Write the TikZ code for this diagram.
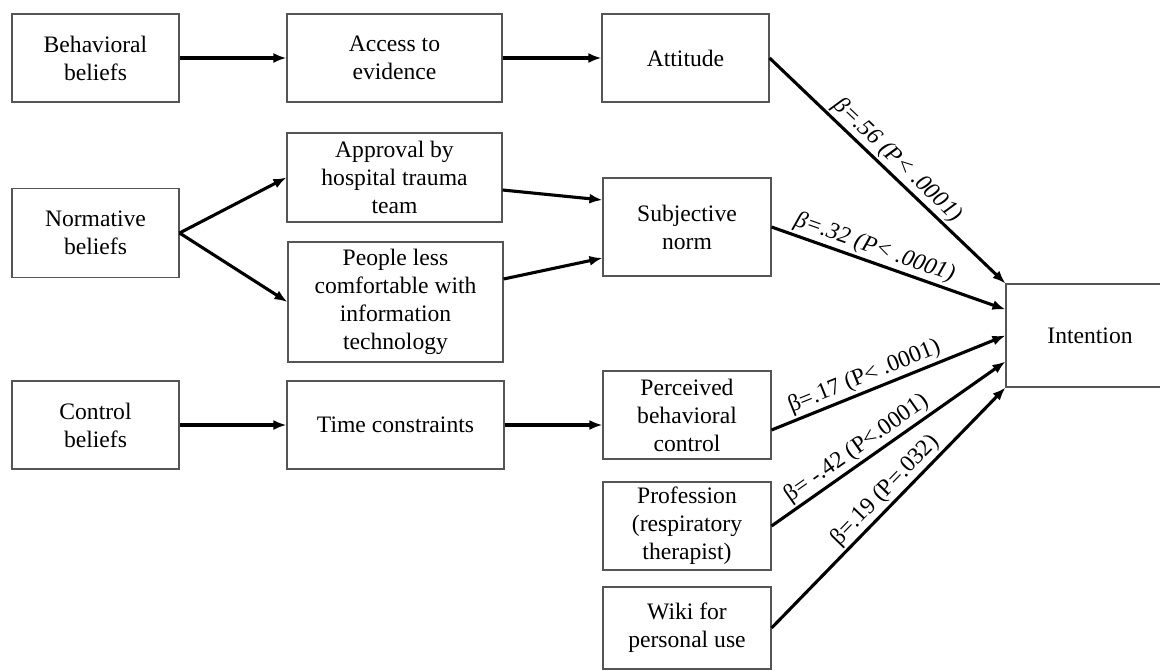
\documentclass[tikz,border=0pt]{standalone}
\usepackage{fontspec}
\setmainfont{Liberation Serif}
\usetikzlibrary{arrows.meta,calc}
\definecolor{boxline}{RGB}{85,85,85}

\begin{document}
\begin{tikzpicture}[x=1pt, y=-1pt,
    font=\fontsize{23.6}{28}\selectfont,
    box/.style={draw=boxline, line width=1.1pt, align=center, inner sep=0pt},
    link/.style={-{Latex[length=13pt,width=10pt]}, line width=3.1pt},
    coef/.style={sloped, above, inner sep=2pt}]

  \useasboundingbox (0,0) rectangle (1160,670);
  \clip (0,0) rectangle (1160,670);

  % -- beliefs --
  \node[box, minimum width=167pt, minimum height=88pt] (beh) at (95.5,58)  {Behavioral\\beliefs};
  \node[box, minimum width=167pt, minimum height=89pt] (nor) at (95.5,233) {Normative\\beliefs};
  \node[box, minimum width=167pt, minimum height=88pt] (ctl) at (95.5,425) {Control\\beliefs};

  % -- middle column --
  \node[box, minimum width=215pt, minimum height=88pt]  (acc) at (394.5,58)    {Access to\\evidence};
  \node[box, minimum width=215pt, minimum height=89pt]  (app) at (394.5,177.5) {Approval by\\hospital trauma\\team};
  \node[box, minimum width=215pt, minimum height=120pt] (ppl) at (395.5,302)   {People less\\comfortable with\\information\\technology};
  \node[box, minimum width=217pt, minimum height=88pt]  (tim) at (395.5,425)   {Time constraints};

  % -- predictors --
  \node[box, minimum width=167pt, minimum height=88pt] (att) at (685.5,58) {Attitude};
  \node[box, minimum width=168pt, minimum height=98pt] (sub) at (687,227)  {Subjective\\norm};
  \node[box, minimum width=168pt, minimum height=88pt] (pbc) at (687,415)  {Perceived\\behavioral\\control};
  \node[box, minimum width=168pt, minimum height=88pt] (pro) at (687,526)  {Profession\\(respiratory\\therapist)};
  \node[box, minimum width=168pt, minimum height=82pt] (wik) at (687,628)  {Wiki for\\personal use};

  % -- outcome --
  \node[box, minimum width=168pt, minimum height=103pt] (int) at (1090,335.5) {Intention};

  % belief links
  \draw[link] (beh.east) -- (acc.west);
  \draw[link] (acc.east) -- (att.west);
  \draw[link] (nor.east) -- (app.west);
  \draw[link] (nor.east) -- (ppl.west);
  \draw[link] ([yshift=-12.5pt]app.east) -- ([yshift=27pt]sub.west);
  \draw[link] ([yshift=23pt]ppl.east) -- ([yshift=-31pt]sub.west);
  \draw[link] (ctl.east) -- (tim.west);
  \draw[link] (tim.east) -- (tim.east -| pbc.west);

  % paths into intention
  \draw[link] (att.east) -- (int.north west)
    node[coef, pos=.5] {\itshape β=.56 (P< .0001)};
  \draw[link] (sub.east) -- ($(int.north west)!.25!(int.south west)$)
    node[coef, pos=.42] {\itshape β=.32 (P< .0001)};
  \draw[link] ([yshift=-15pt]pbc.east) -- (int.west)
    node[coef, pos=.42] {β=.17 (P< .0001)};
  \draw[link] (pro.east) -- ($(int.north west)!.75!(int.south west)$)
    node[coef, pos=.40] {β= -.42 (P<.0001)};
  \draw[link] (wik.east) -- (int.south west)
    node[coef, pos=.53] {β=.19 (P=.032)};

\end{tikzpicture}
\end{document}
